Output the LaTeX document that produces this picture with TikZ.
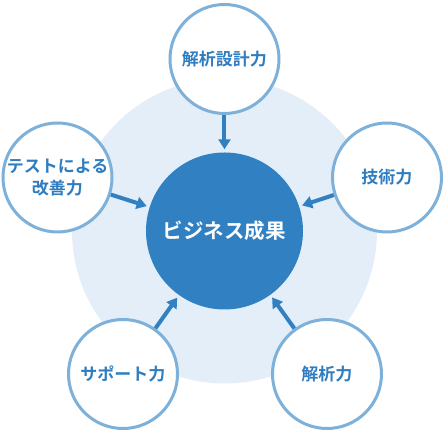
\documentclass[tikz,border=0pt]{standalone}
\usepackage{fontspec}
\newfontfamily\jpfont{Noto Sans CJK JP}[BoldFont={Noto Sans CJK JP Bold}]
\usetikzlibrary{arrows.meta}
\definecolor{skillRing}{RGB}{126,177,218}
\definecolor{skillText}{RGB}{47,125,192}
\definecolor{coreFill}{RGB}{49,129,194}
\definecolor{haloFill}{RGB}{227,238,248}
\tikzset{
  skill/.style={circle, draw=skillRing, line width=3pt, fill=white,
    minimum size=109pt, inner sep=0pt, align=center, text=skillText,
    font=\jpfont\bfseries\fontsize{17pt}{22pt}\selectfont},
  core/.style={circle, fill=coreFill, minimum size=157pt, inner sep=0pt,
    text=white, font=\jpfont\bfseries\fontsize{20.5pt}{24pt}\selectfont},
  feed/.style={draw=coreFill, line width=4pt, shorten >=3pt,
    -{Triangle[width=12pt,length=10pt]}}
}
\begin{document}
\begin{tikzpicture}[x=1pt, y=1pt]
\useasboundingbox (-224.5,-204) rectangle (220.5,231);
% Background halo
\fill[haloFill] (0,0) circle (152.5);
% Core result
\node[core] (result) at (0,0) {ビジネス成果};
% Skills around it
\node[skill] (design)  at (0,172)       {解析設計力};
\node[skill] (tech)    at (162.5,53.5)  {技術力};
\node[skill] (testing) at (-167,53.5)   {テストによる\\改善力};
\node[skill] (support) at (-101.5,-143) {サポート力};
\node[skill] (analysis) at (102.5,-143) {解析力};
% Arrows into the core
\draw[feed] (design)   -- (result);
\draw[feed] (tech)     -- (result);
\draw[feed] (testing)  -- (result);
\draw[feed] (support)  -- (result);
\draw[feed] (analysis) -- (result);
\end{tikzpicture}
\end{document}
